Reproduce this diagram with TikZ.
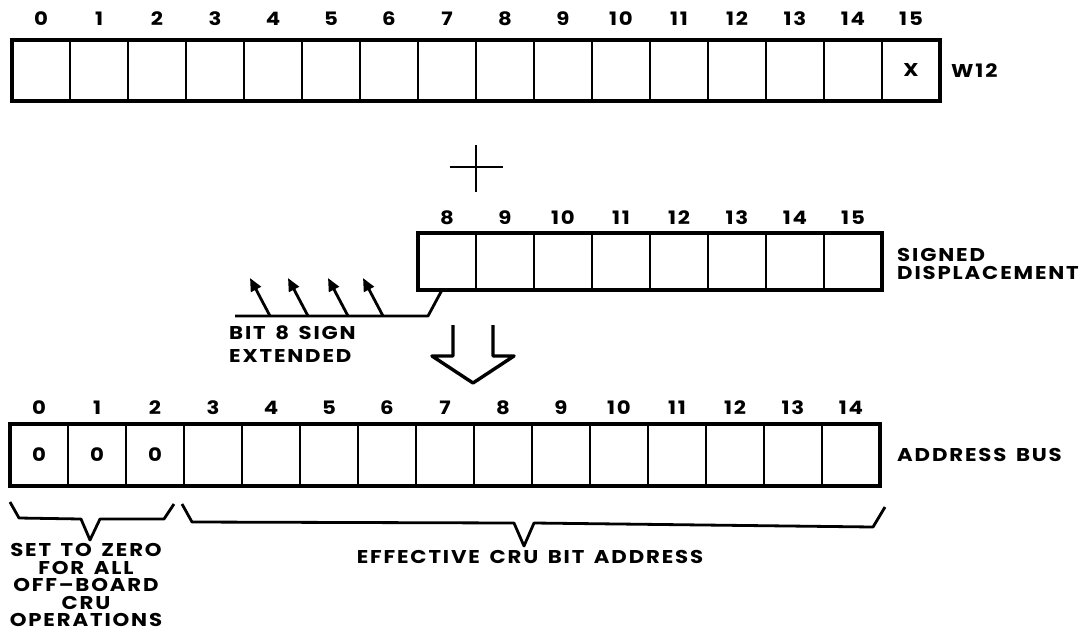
\documentclass[tikz,border=0pt]{standalone}
\usepackage{fontspec}
\setmainfont{Poppins}[LetterSpace=10,WordSpace=1.5,FakeStretch=1.15]
\usetikzlibrary{arrows.meta}
\newcommand{\lblfont}{\bfseries\fontsize{18.5}{20}\selectfont}
\begin{document}
\begin{tikzpicture}[x=1pt,y=-1pt,
  cell/.style={draw, line width=2pt, minimum width=58pt, minimum height=#1, inner sep=0pt, outer sep=0pt, anchor=north west},
  frame/.style={line width=3.4pt, line join=miter},
  lbl/.style={font=\lblfont, inner sep=0pt},
  txt/.style={font=\lblfont, inner sep=0pt, anchor=west},
  ctxt/.style={font=\lblfont, inner sep=0pt, anchor=center},
  stroke/.style={line width=2.8pt, line join=round},
  arr/.style={stroke, -{Triangle[length=13pt,width=11pt]}}]
\useasboundingbox (0,0) rectangle (1091,632);
% ---------- top register W12
\foreach \i in {0,...,15} {
  \node[cell=61pt] (t\i) at ({12+58*\i},40) {};
  \node[lbl] (tl\i) at ({41+58*\i},19) {\i};
}
\draw[frame] (t0.north west) rectangle (t15.south east);
\node[lbl] (tx) at (t15) {X};
\node[txt] (w12) at (951,71) {W12};
% ---------- plus
\draw[stroke] (450,167) -- (503,167);
\draw[stroke] (476,145) -- (476,192);
% ---------- middle register
\foreach \j in {8,...,15} {
  \node[cell=57pt] (m\j) at ({418+58*(\j-8)},233) {};
  \node[lbl] (ml\j) at ({447+58*(\j-8)},218) {\j};
}
\draw[frame] (m8.north west) rectangle (m15.south east);
\node[txt] (sd1) at (897,255) {SIGNED};
\node[txt] (sd2) at (897,273) {DISPLACEMENT};
% ---------- sign extension
\coordinate (s0) at (235,316);
\coordinate (s1) at (428,316);
\coordinate (s2) at (442,290);
\draw[stroke] (s0) -- (s1) -- (s2);
\foreach \x [count=\n] in {270,308,348,383} {
  \coordinate (a\n) at (\x,316);
  \draw[arr] (a\n) -- ++(-20,-38);
}
\node[txt] (bs1) at (229,333) {BIT 8 SIGN};
\node[txt] (bs2) at (229,356) {EXTENDED};
% ---------- big down arrow
\draw[frame, line join=round] (453,325) -- (453,356) -- (432,356) -- (473,383) -- (514,356) -- (493,356) -- (493,325);
% ---------- bottom register
\foreach \i in {0,...,14} {
  \node[cell=62pt] (b\i) at ({10+58*\i},424) {};
  \node[lbl] (bl\i) at ({39+58*\i},408) {\i};
}
\draw[frame] (b0.north west) rectangle (b14.south east);
\foreach \i in {0,1,2} { \node[lbl] (bz\i) at (b\i) {0}; }
\node[txt] (ab) at (897,455) {ADDRESS BUS};
% ---------- braces
\draw[stroke] (10,502) -- (19,518) -- (81,519) -- (90,540) -- (100,519) -- (164,519) -- (174,504);
\draw[stroke] (182,504) -- (192,522) -- (514,523) -- (524,546) -- (534,523) -- (873,527) -- (885,507);
\node[ctxt] (z1) at (86,550) {SET TO ZERO};
\node[ctxt] (z2) at (86,567.5) {FOR ALL};
\node[ctxt] (z3) at (86,585) {OFF–BOARD};
\node[ctxt] (z4) at (86,602.5) {CRU};
\node[ctxt] (z5) at (86,620) {OPERATIONS};
\node[ctxt] (ec) at (530,557) {EFFECTIVE CRU BIT ADDRESS};
\end{tikzpicture}
\end{document}
